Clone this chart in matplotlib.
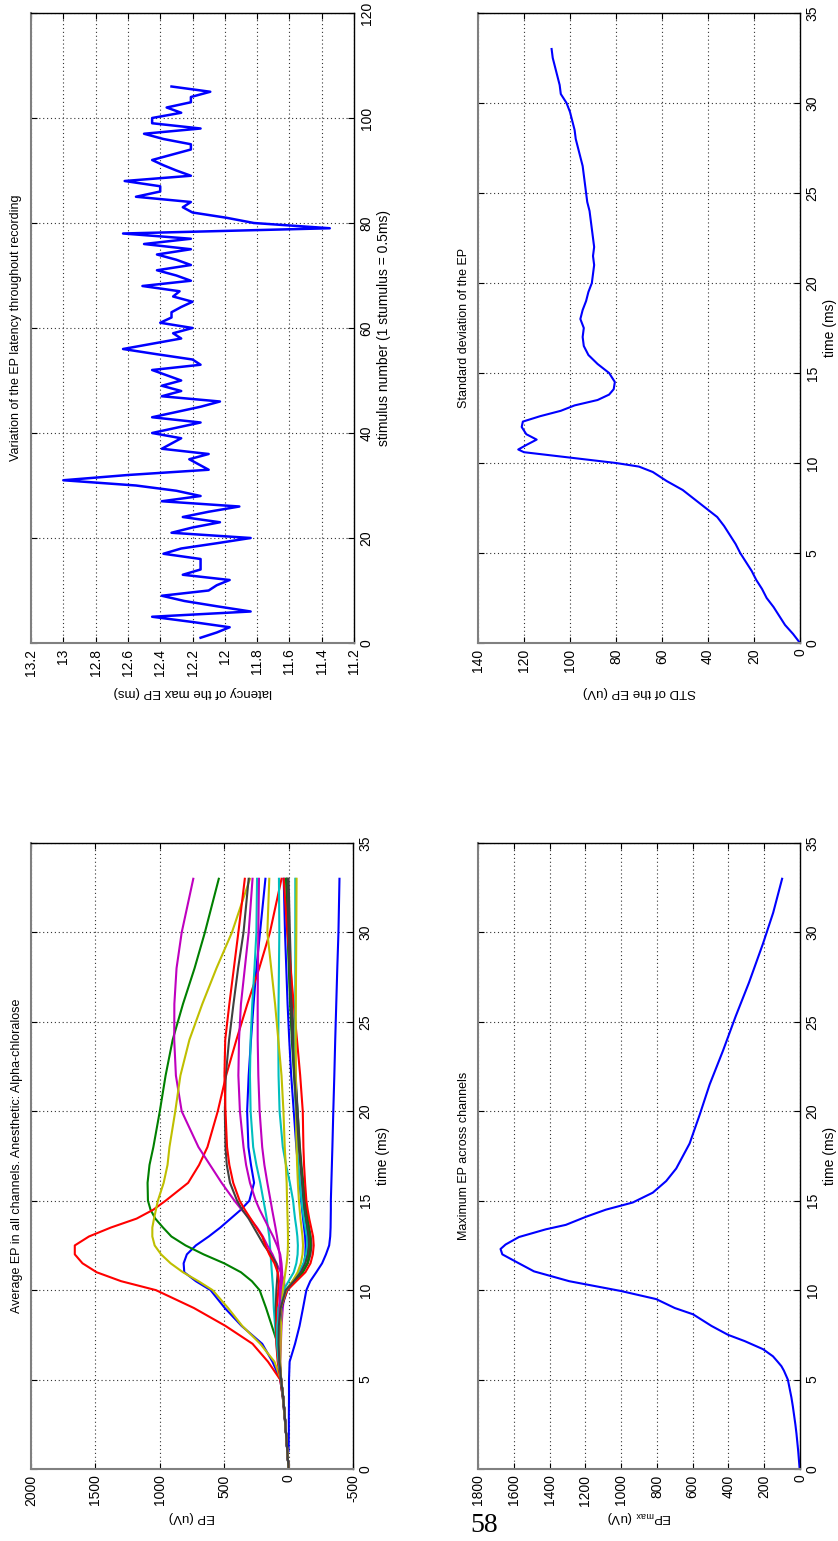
import numpy as np
import matplotlib
matplotlib.use('Agg')
import matplotlib.pyplot as plt
from matplotlib.ticker import FuncFormatter

plt.rcParams['font.family'] = ['Liberation Sans Narrow', 'Liberation Sans', 'DejaVu Sans']
plt.rcParams['axes.unicode_minus'] = False

nan = np.nan

# latency of the max EP for each stimulus (ms)
latency = [12.15, 12.05, 11.97, 12.20, 12.45, 11.84, 12.05, 12.25, 12.39, 12.10,
           12.05, 11.97, 12.26, 12.15, 12.15, 12.15, 12.38, 12.27, 12.05, 11.84,
           12.33, 12.20, 12.03, 12.26, 12.10, 11.91, 12.39, 12.15, 12.30, 12.55,
           13.00, 12.60, 12.10, 12.16, 12.22, 12.10, 12.39, 12.33, 12.27, 12.45,
           12.30, 12.15, 12.45, 12.30, 12.15, 12.03, 12.39, 12.27, 12.39, 12.27,
           12.36, 12.45, 12.15, 12.20, 12.42, 12.63, 12.45, 12.27, 12.32, 12.20,
           12.40, 12.33, 12.33, 12.27, 12.20, 12.32, 12.28, 12.51, 12.21, 12.30,
           12.42, 12.21, 12.30, 12.42, 12.21, 12.50, 12.21, 12.63, 11.35, 11.82,
           11.99, 12.20, 12.26, 12.21, 12.55, 12.40, 12.40, 12.62, 12.21, 12.30,
           12.38, 12.45, 12.33, 12.21, 12.21, 12.38, 12.50, 12.15, 12.45, 12.45,
           12.27, 12.36, 12.21, 12.21, 12.09, 12.33]

# standard deviation of the EP (uV)
std_time = [0, 0.5, 1.0, 1.5, 2.0, 2.5, 3.0, 3.5, 4.0, 4.5, 5.0, 5.5, 6.0, 6.5, 7.0,
            7.5, 8.0, 8.5, 9.0, 9.5, 9.8, 10.0, 10.3, 10.6, 10.75, 11.0, 11.3, 11.6,
            12.0, 12.3, 12.6, 12.9, 13.2, 13.5, 13.8, 14.1, 14.5, 15.0, 15.5, 16.0,
            16.5, 17.0, 17.5, 18.0, 18.5, 19.0, 19.5, 20.0, 20.5, 21.0, 21.5, 22.0,
            22.5, 23.0, 23.5, 24.0, 24.5, 25.0, 25.5, 26.0, 26.5, 27.0, 27.5, 28.0,
            28.5, 29.0, 29.5, 30.0, 30.5, 31.0, 31.5, 32.0, 32.5, 33.0]
std_value = [0, 3, 6.5, 9, 11.5, 14.5, 16.5, 19, 21, 23.5, 26, 28, 30.5, 33, 36,
             41, 46, 51, 58, 64, 70, 80, 100, 120, 122.5, 119, 114.5, 119,
             121, 120.5, 113, 104, 98, 88, 83, 81, 80.5, 83, 88, 92,
             94, 94.5, 94, 95.5, 94.5, 93, 92, 90.5, 90, 89.5, 90, 89.5,
             90, 90.5, 91, 91.5, 92.5, 93, 93.5, 94, 94.5, 95.5, 96.5, 97.5,
             98, 99, 100, 101.5, 104, 104.5, 105.5, 106.5, 107.5, 108]

# maximum EP across channels (uV)
maxep_time = [0.0, 0.5, 1.0, 1.5, 2.0, 2.5, 3.0, 3.5, 4.0, 4.5, 5.0, 5.5, 5.75, 6.0,
              6.3, 6.7, 7.15, 7.5, 8.0, 8.65, 9.0, 9.5, 9.95, 10.5, 11.05, 11.6,
              12.0, 12.3, 12.55, 12.97, 13.4, 13.65, 14.1, 14.5, 14.9, 15.45, 16.1,
              16.8, 18.2, 19.8, 21.5, 23.4, 25.3, 27.2, 29.4, 31.1, 33.0]
maxep_value = [2, 6, 10, 15, 20, 26, 33, 40, 48, 58, 68, 90, 104, 125,
               151, 207, 309, 402, 495, 598, 700, 804, 1000, 1290, 1487, 1590,
               1664, 1674, 1646, 1571, 1421, 1309, 1197, 1085, 935, 823, 748,
               692, 617, 561, 505, 430, 360, 285, 206, 150, 100]

# average EP per channel (uV), sampled at ep_time (ms)
ep_time = [0, 1, 2, 3, 4, 5, 6, 7, 8, 9, 10, 10.5, 11, 11.5, 12, 12.5, 13, 13.5,
           14, 14.5, 15, 16, 17, 18, 20, 22, 24, 26, 28, 30, 33]
ch01 = [0, 10, 20, 32, 45, 65, 125, 205, 365, 495, 606, 720, 810, 815, 790, 720, 620, 530,
        450, 370, 305, 268, 292, 312, 322, 310, 292, 272, 250, 222, 180]
ch02 = [0, 10, 20, 32, 45, 62, 70, 85, 130, 175, 225, 285, 370, 500, 660, 800, 910, 975,
        1035, 1072, 1092, 1095, 1080, 1050, 1000, 955, 900, 820, 730, 650, 542]
ch03 = [0, 10, 20, 32, 45, 65, 160, 280, 490, 735, 1030, 1300, 1490, 1600, 1660, 1660, 1550, 1380,
        1180, 1050, 955, 780, 695, 630, 550, 485, 405, 320, 228, 145, 55]
ch04 = [0, 10, 20, 30, 42, 60, 80, 95, 105, 115, 120, 125, 130, 135, 140, 145, 150, 160,
        170, 182, 195, 220, 250, 275, 295, 300, 295, 282, 265, 250, 245]
ch05 = [0, 10, 20, 30, 42, 58, 65, 60, 55, 45, 30, 35, 60, 95, 125, 165, 200, 245,
        300, 365, 420, 520, 610, 700, 830, 875, 888, 887, 870, 830, 740]
ch06 = [0, 10, 20, 30, 42, 60, 110, 220, 360, 470, 590, 700, 820, 916, 990, 1040, 1058, 1058,
        1045, 1030, 1015, 970, 940, 925, 880, 840, 770, 670, 560, 440, 300]
ch07 = [0, 10, 20, 30, 42, 60, 80, 90, 95, 100, 95, 90, 85, 95, 140, 190, 230, 270,
        310, 360, 400, 455, 480, 490, 495, 488, 462, 428, 392, 350, 310]
ch08 = [nan, 0, -2, -2, -3, -3, -8, -50, -85, -112, -138, -168, -215, -260, -290, -315, -323, -326,
        -327, -328, -328, -332, -336, -340, -347, -355, -362, -370, -378, -387, -395]
ch09 = [0, 10, 20, 30, 42, 58, 70, 75, 70, 60, 20, -40, -90, -120, -140, -150, -150, -140,
        -130, -120, -115, -105, -95, -85, -70, -50, -30, -15, -5, 5, 15]
ch10 = [0, 10, 20, 30, 42, 62, 85, 95, 95, 90, 80, 75, 85, 110, 150, 180, 205, 250,
        295, 340, 380, 430, 460, 478, 490, 498, 492, 460, 425, 390, 340]
ch11 = [0, 10, 20, 30, 42, 58, 75, 85, 85, 80, 40, 0, -40, -60, -70, -72, -68, -60,
        -50, -42, -35, -10, 20, 45, 70, 78, 80, 78, 75, 72, 75]
ch12 = [0, 10, 20, 30, 42, 58, 70, 72, 70, 65, 55, 50, 50, 55, 65, 90, 120, 155,
        190, 225, 255, 300, 330, 350, 378, 390, 385, 370, 340, 310, 280]
ch13 = [0, 10, 20, 30, 42, 58, 65, 62, 58, 55, 45, 35, 25, 15, 8, 5, 5, 6,
        8, 10, 12, 15, 22, 30, 40, 55, 80, 105, 135, 165, 150]
ch14 = [0, 10, 20, 30, 42, 58, 72, 78, 75, 60, 20, -50, -110, -150, -170, -178, -172, -160,
        -150, -140, -130, -115, -100, -88, -70, -55, -40, -28, -18, -10, 0]
ch15 = [0, 10, 20, 30, 42, 58, 70, 75, 70, 55, 10, -50, -95, -120, -130, -132, -128, -120,
        -112, -105, -98, -85, -72, -60, -40, -20, -5, 8, 18, 28, 38]
ch16 = [0, 10, 20, 30, 42, 58, 72, 80, 75, 60, 15, -50, -110, -145, -160, -168, -165, -155,
        -145, -135, -125, -110, -95, -82, -60, -42, -25, -12, -2, 8, 20]
ch17 = [0, 10, 20, 30, 42, 58, 75, 82, 78, 60, 10, -60, -130, -170, -188, -195, -190, -175,
        -160, -148, -138, -128, -120, -115, -110, -90, -65, -40, -15, 10, 38]
ch18 = [0, 10, 20, 30, 42, 58, 78, 90, 88, 70, 20, -30, -80, -115, -135, -145, -142, -130,
        -118, -108, -100, -88, -75, -65, -56, -52, -52, -52, -52, -52, -52]
ch19 = [0, 10, 20, 30, 42, 58, 70, 72, 72, 70, 68, 62, 60, 65, 70, 80, 90, 102,
        115, 128, 140, 165, 188, 205, 225, 235, 240, 240, 238, 235, 230]
ch20 = [0, 10, 20, 30, 42, 58, 68, 72, 70, 60, 20, -30, -70, -95, -108, -112, -108, -100,
        -92, -86, -80, -72, -66, -62, -58, -56, -55, -56, -58, -60, -62]
ch21 = [0, 10, 20, 30, 42, 58, 72, 78, 76, 62, 22, -40, -95, -130, -150, -158, -155, -146,
        -136, -126, -118, -105, -92, -80, -62, -45, -30, -18, -8, 0, 8]
channels = [ch01, ch02, ch03, ch04, ch05, ch06, ch07, ch08, ch09, ch10, ch11,
            ch12, ch13, ch14, ch15, ch16, ch17, ch18, ch19, ch20, ch21]

# default 7 colour line cycle
line_colors = [(0, 0, 1), (0, 0.5, 0), (1, 0, 0), (0, 0.75, 0.75),
               (0.75, 0, 0.75), (0.75, 0.75, 0), (0.25, 0.25, 0.25)]

W, H = 838, 1541
fig = plt.figure(figsize=(W / 100, H / 100), dpi=100)


def add_axes_px(x0, y0, x1, y1):
    return fig.add_axes([x0 / W, 1 - y1 / H, (x1 - x0) / W, (y1 - y0) / H])


def setup_axes(ax, vlim, vticks, tlim, tticks, title, tlabel, vlabel):
    # page is turned: values run right-to-left, time runs bottom-to-top
    ax.set_xlim(vlim[1], vlim[0])
    ax.set_ylim(tlim[0], tlim[1])
    ax.set_xticks(vticks)
    ax.set_yticks(tticks)
    ax.tick_params(direction='in', length=4, width=0.8, top=True, bottom=True,
                   left=True, right=True, labelleft=False, labelright=True,
                   labelsize=10, pad=4)
    ax.tick_params(axis='x', labelrotation=90)
    ax.tick_params(axis='y', labelrotation=90)
    for tick in ax.yaxis.get_major_ticks():
        tick.label2.set_va('center')
    ax.grid(True, linestyle=(0, (1, 2.5)), color='0.2', linewidth=0.8)
    for side in ['left', 'bottom']:
        ax.spines[side].set_color('0.5')
        ax.spines[side].set_linewidth(1.5)
    for side in ['top', 'right']:
        ax.spines[side].set_color('k')
        ax.spines[side].set_linewidth(1.0)
    ax.text(-0.045, 0.5, title, transform=ax.transAxes, rotation=90,
            ha='center', va='center', fontsize=9)
    ax.text(1.093, 0.5, tlabel, transform=ax.transAxes, rotation=90,
            ha='center', va='center', fontsize=10)
    ax.text(0.5, -0.077, vlabel, transform=ax.transAxes, rotation=180,
            ha='center', va='center', fontsize=9.5, family='Liberation Sans')


# latency of the max EP
ax1 = add_axes_px(31, 13, 354, 643)
stimulus = np.arange(1, len(latency) + 1)
ax1.plot(latency, stimulus, color=(0, 0, 1), lw=1.8)
setup_axes(ax1, (11.2, 13.2), np.arange(11.2, 13.21, 0.2), (0, 120), np.arange(0, 121, 20),
           'Variation of the EP latency throughout recording',
           'stimulus number (1 stumulus = 0.5ms)', 'latency of the max EP (ms)')
ax1.xaxis.set_major_formatter(FuncFormatter(lambda v, p: '%g' % round(v, 1)))

# standard deviation
ax2 = add_axes_px(478, 13, 800, 643)
ax2.plot(std_value, std_time, color=(0, 0, 1), lw=1.5)
setup_axes(ax2, (0, 140), np.arange(0, 141, 20), (0, 35), np.arange(0, 36, 5),
           'Standard deviation of the EP', 'time (ms)', 'STD of the EP (uV)')

# average EP in all channels
ax3 = add_axes_px(31, 843, 353, 1469)
for i, ch in enumerate(channels):
    ax3.plot(ch, ep_time, color=line_colors[i % 7], lw=1.5)
setup_axes(ax3, (-500, 2000), np.arange(-500, 2001, 500), (0, 35), np.arange(0, 36, 5),
           'Average EP in all channels. Anesthetic: Alpha-chloralose', 'time (ms)', 'EP (uV)')

# maximum EP across channels
ax4 = add_axes_px(478, 843, 800, 1469)
ax4.plot(maxep_value, maxep_time, color=(0, 0, 1), lw=1.5)
setup_axes(ax4, (0, 1800), np.arange(0, 1801, 200), (0, 35), np.arange(0, 36, 5),
           'Maximum EP across channels', 'time (ms)', r'EP$_{\mathregular{max}}$ (uV)')

fig.text(484 / W, 1 - 1525 / H, '58', family='Liberation Serif', fontsize=20,
         ha='center', va='center')

fig.savefig('out.png', dpi=100)
